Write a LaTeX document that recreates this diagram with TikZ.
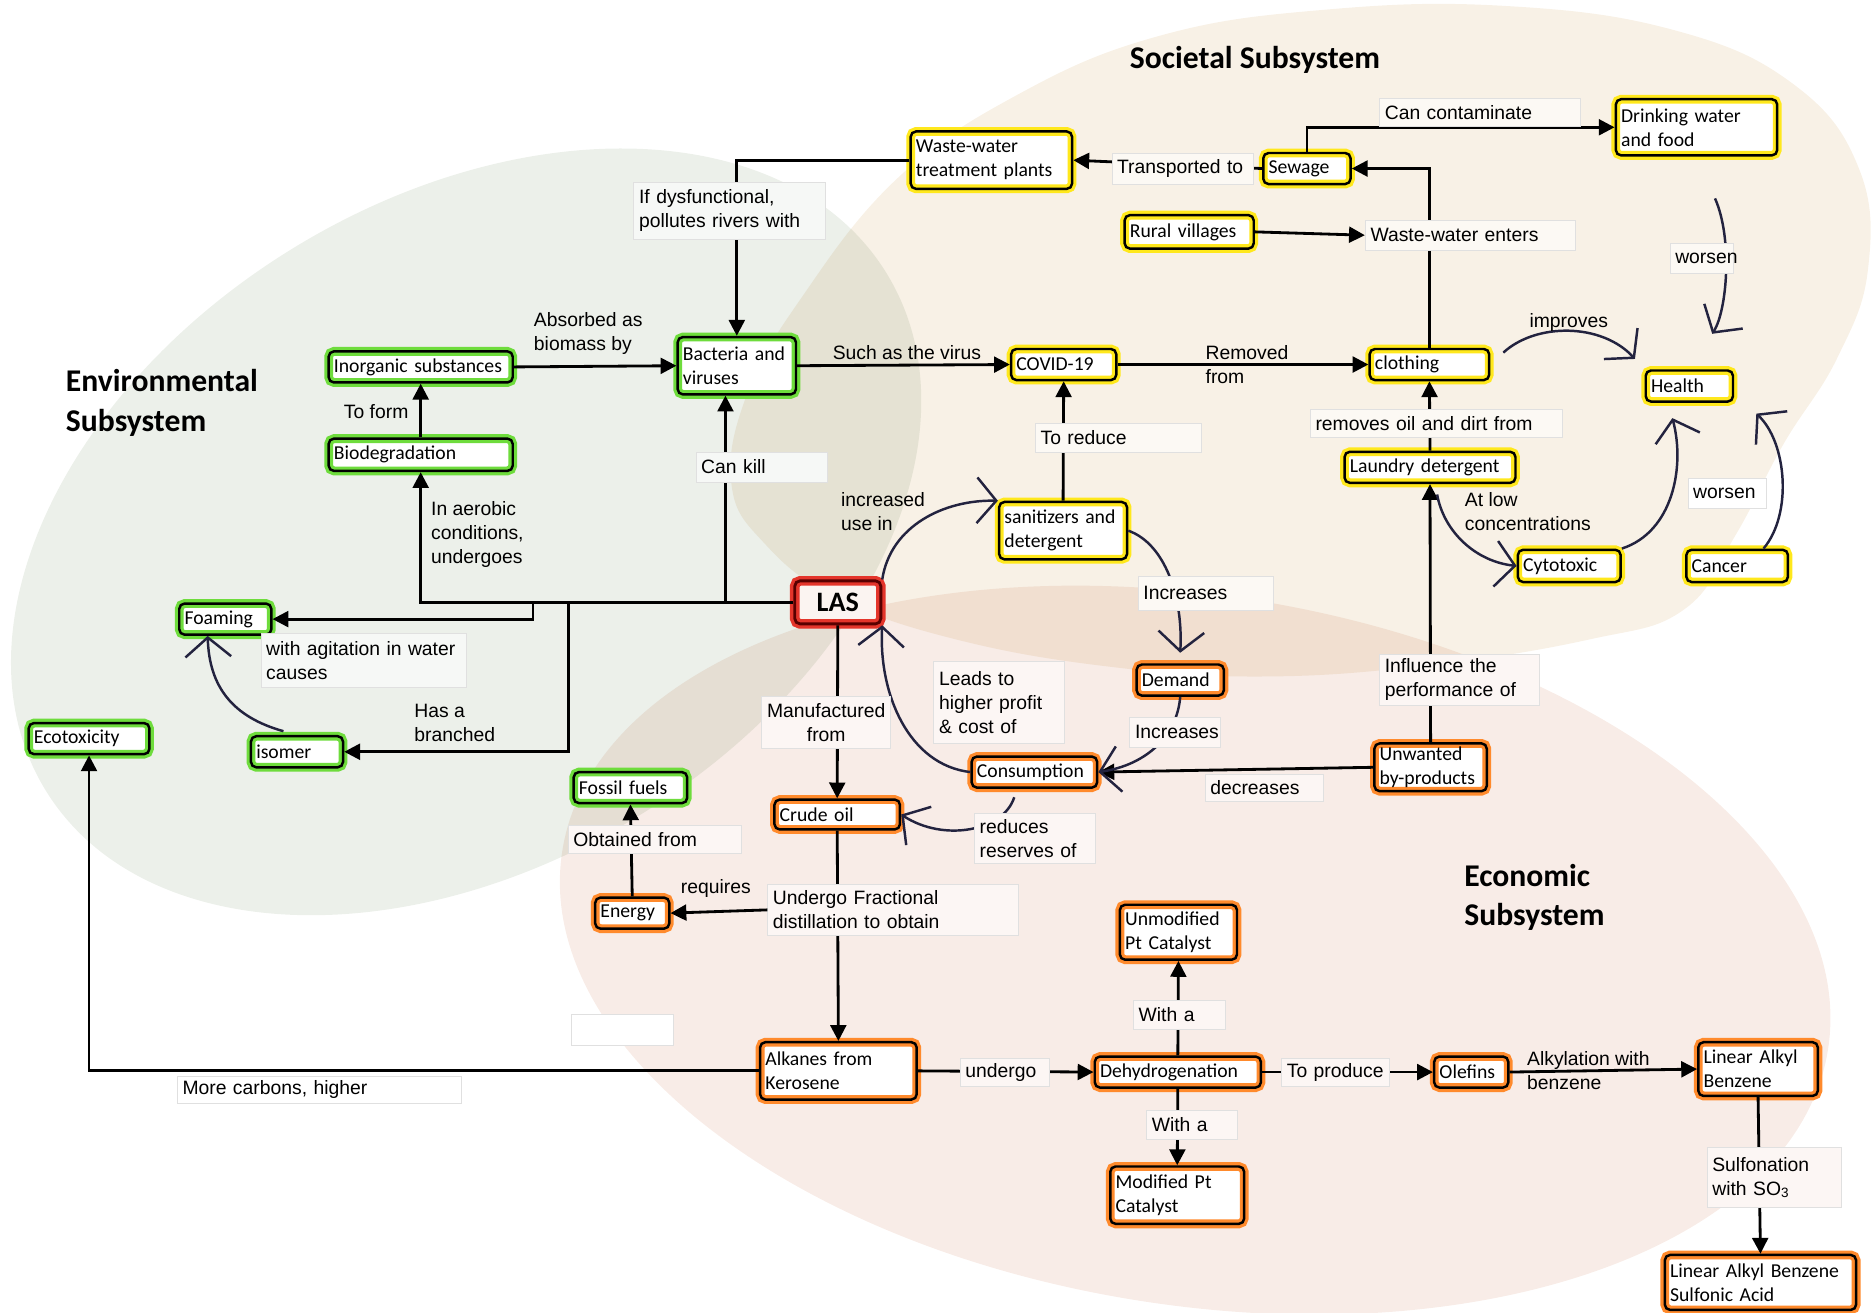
\documentclass[tikz,border=0pt]{standalone}
\usepackage{fontspec}
\setmainfont{Carlito}
\newfontfamily\lblfont{Liberation Sans}
\usetikzlibrary{positioning, arrows.meta, calc}
\definecolor{envbg}{HTML}{ECF0EA}
\definecolor{socbg}{HTML}{F8F1E6}
\definecolor{ecobg}{HTML}{F8ECE7}
\definecolor{glowG}{HTML}{6EDC3C}
\definecolor{glowY}{HTML}{FFE81C}
\definecolor{glowO}{HTML}{FF8A2C}
\definecolor{glowR}{HTML}{E4352B}
\definecolor{inkN}{HTML}{23233F}

\begin{document}
\begin{tikzpicture}[x=0.0239cm, y=-0.0239cm,
    wd/.code={\pgfmathsetmacro\boxw{#1*0.68-6}\pgfkeysalso{text width=\boxw pt}},
    ht/.code={\pgfmathsetmacro\boxh{#1*0.68}\pgfkeysalso{minimum height=\boxh pt}},
    box/.style={draw=black, line width=1.4pt, rounded corners=3pt, align=left, inner xsep=3pt,
        inner ysep=2pt, font=\fontsize{11.2}{13.6}\selectfont},
    envbox/.style={box, preaction={fill=white}, preaction={draw=glowG, line width=5pt}},
    socbox/.style={box, preaction={fill=white}, preaction={draw=glowY, line width=5pt}},
    ecobox/.style={box, preaction={fill=white}, preaction={draw=glowO, line width=5pt}},
    lasbox/.style={box, draw=black!65!red, line width=1.6pt, preaction={fill=ecobg!60!white},
        preaction={draw=glowR, line width=5.5pt}, align=center, font=\fontsize{16}{18}\selectfont\bfseries},
    lbl/.style={draw=black!12, line width=0.4pt, anchor=north west, align=left, inner xsep=3pt,
        inner ysep=2pt, font=\lblfont\fontsize{11}{13.6}\selectfont},
    txt/.style={anchor=west, align=left, inner sep=1pt, font=\lblfont\fontsize{11}{13.6}\selectfont},
    conn/.style={line width=1.6pt, -{Triangle[length=9pt, width=9pt]}},
    hand/.style={draw=inkN, line width=1.4pt, -{Straight Barb[length=11pt, width=26pt]}},
    title/.style={font=\fontsize{18}{22.5}\selectfont\bfseries, align=left}]

\useasboundingbox (0,0) rectangle (1568,1098);

% the three subsystems
\begin{scope}[blend mode=multiply]
  \fill[envbg, rotate around={31.6:(390,445)}] (390,445) ellipse [x radius=413, y radius=278];
  \fill[ecobg, rotate around={-8.9:(1000,795)}] (1000,795) ellipse [x radius=536, y radius=297];
  \fill[socbg] plot[smooth cycle, tension=0.7] coordinates {(612,405) (640,455) (700,500) (800,535)
    (930,558) (1060,566) (1200,556) (1330,535) (1409,510) (1452,448) (1492,372) (1537,300) (1563,225)
    (1555,140) (1500,70) (1400,25) (1260,5) (1110,8) (970,30) (850,80) (750,150) (670,250) (625,330)};
\end{scope}

\node[title, anchor=center] (soctitle) at (1050,50) {Societal Subsystem};
\node[title, anchor=west] (envtitle) at (50,337) {Environmental\\Subsystem};
\node[title, anchor=west] (ecotitle) at (1220,751) {Economic\\Subsystem};

% environmental
\node[envbox, wd=154, ht=26] (inorg) at (352,307) {Inorganic substances};
\node[envbox, wd=99, ht=48] (bact) at (616.5,306) {Bacteria and\\viruses};
\node[envbox, wd=154, ht=27] (biodeg) at (352,380.5) {Biodegradation};
\node[envbox, wd=77, ht=26] (foam) at (188.5,518) {Foaming};
\node[envbox, wd=101, ht=26] (ecotox) at (74.5,618) {Ecotoxicity};
\node[envbox, wd=77, ht=26] (isomer) at (248.5,629) {isomer};
\node[envbox, wd=95, ht=26] (fossil) at (527.5,659) {Fossil fuels};

% societal
\node[socbox, wd=135, ht=48] (wwtp) at (829.5,134) {Waste-water\\treatment plants};
\node[socbox, wd=73, ht=26] (sewage) at (1093.5,141) {Sewage};
\node[socbox, wd=135, ht=47] (drink) at (1419.5,106.5) {Drinking water\\and food};
\node[socbox, wd=108, ht=28] (rural) at (995,194) {Rural villages};
\node[socbox, wd=88, ht=26] (covid) at (890,305) {COVID-19};
\node[socbox, wd=100, ht=26] (cloth) at (1196,305) {clothing};
\node[socbox, wd=73, ht=26] (health) at (1413.5,323) {Health};
\node[socbox, wd=107, ht=48] (sanit) at (889.5,444) {sanitizers and\\detergent};
\node[socbox, wd=143, ht=26] (laundry) at (1196.5,391) {Laundry detergent};
\node[socbox, wd=86, ht=27] (cyto) at (1313,473.5) {Cytotoxic};
\node[socbox, wd=85, ht=27] (cancer) at (1453.5,473.5) {Cancer};

\node[lasbox, wd=72, ht=36] (las) at (701,504) {LAS};

% economic
\node[ecobox, wd=73, ht=26] (demand) at (987.5,569) {Demand};
\node[ecobox, wd=105, ht=26] (consum) at (865.5,646) {Consumption};
\node[ecobox, wd=94, ht=40] (unwant) at (1197,642) {Unwanted\\by-products};
\node[ecobox, wd=105, ht=25] (crude) at (700.5,681.5) {Crude oil};
\node[ecobox, wd=62, ht=26] (energy) at (529,764) {Energy};
\node[ecobox, wd=98, ht=46] (unmod) at (986,780) {Unmodified\\Pt Catalyst};
\node[ecobox, wd=131, ht=48] (alkane) at (701.5,896) {Alkanes from\\Kerosene};
\node[ecobox, wd=139, ht=26] (dehyd) at (985.5,897) {Dehydrogenation};
\node[ecobox, wd=62, ht=26] (olefin) at (1231,897) {Olefins};
\node[ecobox, wd=100, ht=45] (lab) at (1471,894.5) {Linear Alkyl\\Benzene};
\node[ecobox, wd=112, ht=48] (modpt) at (985,1000) {Modified Pt\\Catalyst};
\node[ecobox, wd=160, ht=46] (labsa) at (1473,1073) {Linear Alkyl Benzene\\Sulfonic Acid};

\coordinate (jkill) at (607,504);
\coordinate (jfoam) at (446,504);
\coordinate (jiso) at (476,504);

\draw[conn] (wwtp.west) -| (bact.north);
\draw[conn] (sewage.west) -- (wwtp.east);
\draw[conn] (sewage.north) |- (drink.west);
\draw[conn] (cloth.north) |- (sewage.east);
\draw[conn] (inorg.east) -- (bact.west);
\draw[conn] (bact.east) -- (covid.west);
\draw[conn] (covid.east) -- (cloth.west);
\draw[conn] (biodeg.north) -- (inorg.south);
\draw[conn] (las.west) -| (biodeg.south);
\draw[conn] (jkill) -- (jkill |- bact.south);
\draw[conn] (jfoam) |- (foam.east);
\draw[conn] (jiso) |- (isomer.east);
\draw[conn] (alkane.west) -| (ecotox.south);
\draw[conn] (las.south) -- (crude.north);
\draw[conn] (crude.south) -- (alkane.north);
\draw[conn] (energy.north) -- (fossil.south);
\draw[conn] (alkane.east) -- (dehyd.west);
\draw[conn] (dehyd.north) -- (unmod.south);
\draw[conn] (dehyd.south) -- (modpt.north);
\draw[conn] (dehyd.east) -- (olefin.west);
\draw[conn] (olefin.east) -- (lab.west);
\draw[conn] (lab.south) -- (labsa.north);
\draw[conn] (unwant.north) -- (laundry.south);
\draw[conn] (laundry.north) -- (cloth.south);
\draw[conn] (sanit.north) -- (covid.south);
\draw[conn] (unwant.west) -- (consum.east);

% hand drawn loops
\draw[hand] (las.north east) .. controls (745,440) and (790,418) .. (sanit.north west);
\draw[hand] (sanit.east) .. controls (975,455) and (990,500) .. ([yshift=6pt]demand.north);
\draw[hand] (demand.south) .. controls (985,615) and (960,640) .. (consum.east);
\draw[hand] (consum.west) .. controls (760,640) and (735,580) .. (las.south east);
\draw[hand, shorten <=5pt] ([xshift=-10pt]consum.south) .. controls (840,695) and (790,705) .. (crude.east);
\draw[hand, shorten <=8pt] (isomer.north) .. controls (195,600) and (175,575) .. ([xshift=-10pt]foam.south);
\draw[hand, shorten <=10pt, shorten >=8pt] (cloth.east) .. controls (1285,270) and (1340,270) .. (health.north west);
\draw[hand, shorten <=26pt, shorten >=24pt] (drink.south) .. controls (1450,200) and (1445,260) .. (health.north);
\draw[hand, shorten >=9pt] (cyto.north east) .. controls (1400,445) and (1410,390) .. ([xshift=-12pt]health.south);
\draw[hand, shorten >=9pt] ([xshift=15pt]cancer.north) .. controls (1500,430) and (1495,370) .. ([xshift=6pt]health.south east);
\draw[hand, shorten <=6pt] ([xshift=3pt]laundry.south) .. controls (1208,445) and (1235,470) .. (cyto.west);

% link texts
\node[lbl, fill=envbg!45!white, wd=160, ht=48] (dysf) at (530,152) {If dysfunctional,\\pollutes rivers with};
\node[lbl, fill=socbg!45!white, wd=118, ht=26] (transp) at (930,128) {Transported to};
\node[lbl, fill=socbg!45!white, wd=168, ht=23] (contam) at (1154,82) {Can contaminate};
\node[lbl, fill=socbg!45!white, wd=176, ht=25] (wwent) at (1142,184) {Waste-water enters};
\node[lbl, fill=socbg!45!white, wd=53, ht=25] (wors1) at (1397,203) {worsen};
\node[lbl, fill=socbg!45!white, wd=139, ht=24] (reduce) at (866,354) {To reduce};
\node[lbl, fill=socbg!45!white, wd=211, ht=24] (removes) at (1096,342) {removes oil and dirt from};
\node[lbl, fill=envbg!45!white, wd=110, ht=25] (kill) at (582,378) {Can kill};
\node[lbl, fill=white, wd=66, ht=25] (wors2) at (1412,400) {worsen};
\node[lbl, fill=socbg!45!white, wd=113, ht=28] (incr1) at (952,482) {Increases};
\node[lbl, fill=envbg!45!white, wd=172, ht=45] (agit) at (218,530) {with agitation in water\\causes};
\node[lbl, fill=ecobg!45!white, wd=109, ht=69] (profit) at (781,553) {Leads to\\higher profit\\\& cost of};
\node[lbl, fill=ecobg!45!white, wd=134, ht=43] (influ) at (1154,547) {Influence the\\performance of};
\node[lbl, fill=ecobg!45!white, wd=108, ht=44, align=center] (manuf) at (637,582) {Manufactured\\from};
\node[lbl, fill=ecobg!45!white, wd=76, ht=25] (incr2) at (945,600) {Increases};
\node[lbl, fill=ecobg!45!white, wd=99, ht=22] (decr) at (1008,648) {decreases};
\node[lbl, fill=ecobg!45!white, wd=101, ht=42] (reserv) at (815,680) {reduces\\reserves of};
\node[lbl, fill=ecobg!45!white, wd=145, ht=24] (obtain) at (475,690) {Obtained from};
\node[lbl, fill=ecobg!45!white, wd=210, ht=42] (distil) at (642,740) {Undergo Fractional\\distillation to obtain};
\node[lbl, fill=ecobg!45!white, wd=77, ht=24] (witha1) at (948,837) {With a};
\node[lbl, fill=ecobg!45!white, wd=75, ht=24] (undergo) at (803,885) {undergo};
\node[lbl, fill=ecobg!45!white, wd=90, ht=24] (produce) at (1072,885) {To produce};
\node[lbl, fill=white, wd=238, ht=23] (carbons) at (148,900) {More carbons, higher};
\node[lbl, fill=white, wd=85, ht=26] (blank) at (478,848) {};
\node[lbl, fill=ecobg!45!white, wd=76, ht=24] (witha2) at (959,929) {With a};
\node[lbl, fill=ecobg!45!white, wd=112, ht=50] (sulfon) at (1428,960) {Sulfonation\\with SO\textsubscript{3}};

\node[txt] (absorb) at (445,279) {Absorbed as\\biomass by};
\node[txt, anchor=south west] (suchas) at (695,303) {Such as the virus};
\node[txt] (removed) at (1007,305) {Removed\\from};
\node[txt] (improves) at (1278,270) {improves};
\node[txt] (toform) at (286,344) {To form};
\node[txt] (incuse) at (702,428) {increased\\use in};
\node[txt] (atlow) at (1224,428) {At low\\concentrations};
\node[txt] (aerobic) at (359,447) {In aerobic\\conditions,\\undergoes};
\node[txt] (branch) at (345,605) {Has a\\branched};
\node[txt] (requires) at (568,743) {requires};
\node[txt] (alkyl) at (1276,896) {Alkylation with\\benzene};

\draw[conn] (rural.east) -- (wwent.west);
\draw[conn] (distil.west) -- (energy.east);
\end{tikzpicture}
\end{document}
